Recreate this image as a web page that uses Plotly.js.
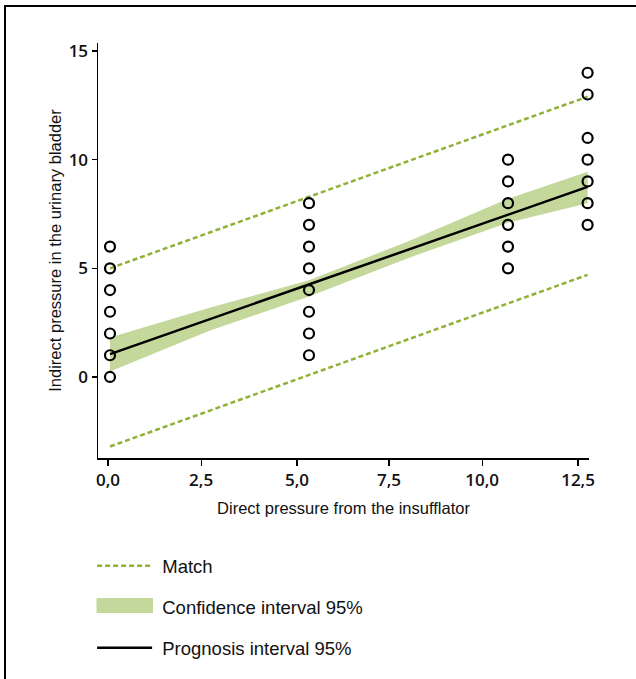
<!DOCTYPE html>
<html>
<head>
<meta charset="utf-8">
<script src="https://cdn.plot.ly/plotly-3.0.1.min.js"></script>
<style>
  html, body { margin: 0; padding: 0; background: #fff; }
  #wrap { position: relative; width: 636px; height: 679px; }
  #chart { width: 636px; height: 679px; }
  #frame { position: absolute; left: 4px; top: 5px; width: 632px; height: 674px;
           border-top: 2px solid #000; border-left: 2px solid #000; pointer-events: none; box-sizing: border-box; }
</style>
</head>
<body>
<div id="wrap">
  <div id="chart"></div>
  <div id="frame"></div>
</div>
<script>
// Observations: direct pressure (insufflator) vs indirect pressure (urinary bladder)
const directPressure   = [0,0,0,0,0,0,0, 5,5,5,5,5,5,5,5, 10,10,10,10,10,10, 12,12,12,12,12,12,12];
const indirectPressure = [0,1,2,3,4,5,6, 1,2,3,4,5,6,7,8, 5,6,7,8,9,10, 7,8,9,10,11,13,14];

// Fitted line
const fitX = [0, 12];
const fitY = [1.05, 8.75];

// Confidence band 95%
const ciX     = [0, 2.5, 5, 7.5, 10, 12];
const ciUpper = [1.82, 3.18, 4.45, 6.25, 8.2, 9.45];
const ciLower = [0.25, 2.13, 3.7, 5.48, 7.1, 8.0];

// "Match" dashed limits
const matchX     = [0, 12];
const matchUpper = [5.0, 12.9];
const matchLower = [-3.2, 4.7];

// Tick labels
const xTickText = ['0,0', '2,5', '5,0', '7,5', '10,0', '12,5'];
const yTickVals = [0, 5, 10, 15];

const legendLabels = ['Match', 'Confidence interval 95%', 'Prognosis interval 95%'];

const green = '#8fb236';
const band  = '#c5d89c';
const pad = '\u00A0';

const bandX = ciX.concat(ciX.slice().reverse());
const bandY = ciUpper.concat(ciLower.slice().reverse());

const traces = [
  {
    x: bandX, y: bandY, type: 'scatter', mode: 'lines',
    fill: 'toself', fillcolor: band, line: { width: 0, color: band },
    name: legendLabels[1], showlegend: false, hoverinfo: 'skip'
  },
  {
    x: [null], y: [null], type: 'scatter', mode: 'lines',
    line: { width: 10, color: band },
    name: pad + legendLabels[1], legendrank: 2, legendgroup: 'b'
  },
  {
    x: matchX.concat([null], matchX), y: matchUpper.concat([null], matchLower),
    type: 'scatter', mode: 'lines', connectgaps: false,
    line: { color: green, width: 2.5, dash: '5px,3px' },
    name: pad + legendLabels[0], legendrank: 1, legendgroup: 'a'
  },
  {
    x: fitX, y: fitY, type: 'scatter', mode: 'lines',
    line: { color: '#000', width: 2.5 },
    name: pad + legendLabels[2], legendrank: 3, legendgroup: 'c'
  },
  {
    x: directPressure, y: indirectPressure, type: 'scatter', mode: 'markers',
    marker: { symbol: 'circle-open', size: 10, color: '#000', line: { width: 2.2, color: '#000' } },
    cliponaxis: false, showlegend: false, name: 'Observations'
  }
];

const layout = {
  width: 636, height: 679,
  margin: { l: 98, r: 47, t: 43, b: 221 },
  paper_bgcolor: '#fff', plot_bgcolor: '#fff',
  showlegend: true,
  legend: {
    x: -0.012, y: -0.215, xanchor: 'left', yanchor: 'top',
    orientation: 'v', itemwidth: 55, tracegroupgap: 14,
    font: { family: 'Liberation Sans, Arial, sans-serif', size: 18.5, color: '#111' },
    bgcolor: 'rgba(0,0,0,0)'
  },
  shapes: [
    { type: 'rect', xref: 'paper', yref: 'paper', layer: 'below',
      x0: -0.003, x1: 0.112, y0: -0.3735, y1: -0.3373,
      fillcolor: band, line: { width: 0 } }
  ],
  xaxis: {
    range: [-0.3015, 12.035],
    tickmode: 'array',
    tickvals: [-0.05, 2.29, 4.70, 7.01, 9.35, 11.76],
    ticktext: xTickText,
    showgrid: false, zeroline: false,
    showline: true, linecolor: '#000', linewidth: 1.5,
    ticks: 'outside', ticklen: 6, tickwidth: 1.2, tickcolor: '#000',
    tickfont: { family: 'Open Sans, sans-serif', size: 17, color: '#111', weight: 600 },
    title: { text: 'Direct pressure from the insufflator', standoff: 12,
             font: { family: 'Liberation Sans, Arial, sans-serif', size: 16.5, color: '#111' } }
  },
  yaxis: {
    range: [-3.73, 15.37],
    tickmode: 'array', tickvals: yTickVals, ticktext: yTickVals.map(String),
    showgrid: false, zeroline: false,
    showline: true, linecolor: '#000', linewidth: 1.5,
    ticks: 'outside', ticklen: 5, tickwidth: 1.2, tickcolor: '#000',
    tickfont: { family: 'Open Sans, sans-serif', size: 17, color: '#111', weight: 600 },
    title: { text: 'Indirect pressure in the urinary bladder', standoff: 3,
             font: { family: 'Liberation Sans, Arial, sans-serif', size: 16.5, color: '#111' } }
  }
};

Plotly.newPlot('chart', traces, layout, { displayModeBar: false, staticPlot: true });
</script>
</body>
</html>
